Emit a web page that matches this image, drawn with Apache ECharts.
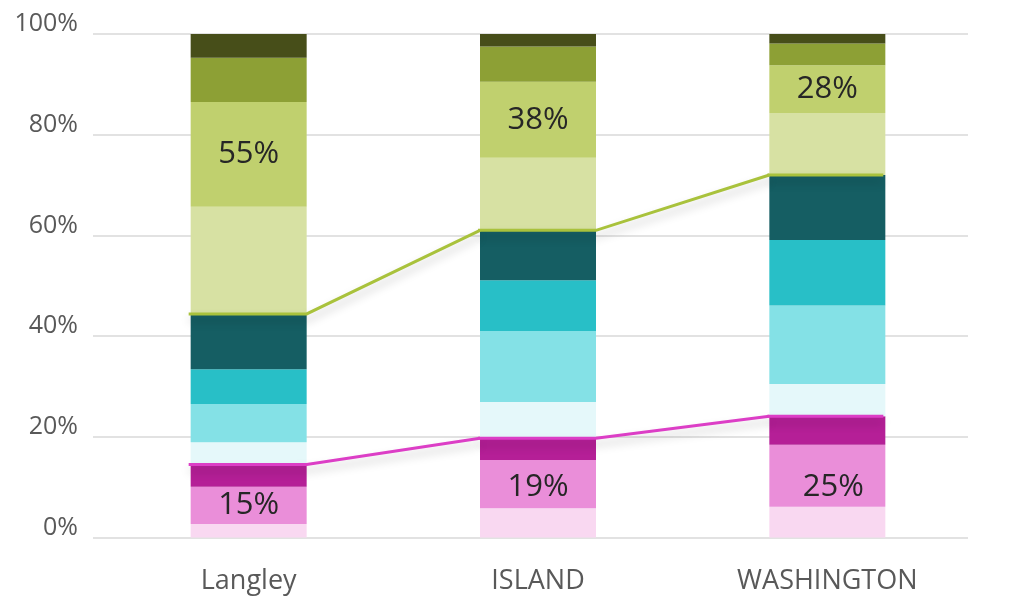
<!DOCTYPE html>
<html>
<head>
<meta charset="utf-8">
<title>Share by region</title>
<script src="https://cdn.jsdelivr.net/npm/echarts@6/dist/echarts.min.js"></script>
<style>
    html, body { margin: 0; padding: 0; background: #fff; }
    #chart { width: 1009px; height: 596px; }
</style>
</head>
<body>
<div id="chart"></div>
<script>
// regions on the x axis
const REGIONS = ['Langley', 'ISLAND', 'WASHINGTON'];

// stacked shares, bottom to top (percent)
const LIGHT_PINK = [2.7, 5.8, 6.1];
const PINK = [7.4, 9.6, 12.3];
const MAGENTA = [4.4, 4.3, 5.7];
const PALE_CYAN = [4.4, 7.2, 6.4];
const LIGHT_CYAN = [7.6, 14.1, 15.6];
const CYAN = [6.9, 10.1, 13.0];
const TEAL = [11.0, 9.9, 12.9];
const PALE_GREEN = [21.3, 14.4, 12.3];
const LIGHT_GREEN = [20.8, 15.1, 9.5];
const GREEN = [8.8, 7.0, 4.3];
const OLIVE = [4.7, 2.5, 1.9];

// group totals printed in the bars
const PINK_TOTAL = [15, 19, 25];
const GREEN_TOTAL = [55, 38, 28];

const Y_TICKS = [0, 20, 40, 60, 80, 100];

const FONT = 'Open Sans';
const BAR_WIDTH = 116;

const segments = [
    { name: 'lightPink', data: LIGHT_PINK, color: '#f9d8f1' },
    { name: 'pink', data: PINK, color: '#ea8ed9' },
    { name: 'magenta', data: MAGENTA, color: '#b51f97' },
    { name: 'paleCyan', data: PALE_CYAN, color: '#e5f8fa' },
    { name: 'lightCyan', data: LIGHT_CYAN, color: '#84e1e6' },
    { name: 'cyan', data: CYAN, color: '#28bfc7' },
    { name: 'teal', data: TEAL, color: '#155e63' },
    { name: 'paleGreen', data: PALE_GREEN, color: '#d7e1a3' },
    { name: 'lightGreen', data: LIGHT_GREEN, color: '#c0d06e' },
    { name: 'green', data: GREEN, color: '#8da035' },
    { name: 'olive', data: OLIVE, color: '#474e19' }
];

// nudges for the pink labels (px)
const PINK_LABEL_OFFSET = [[0, 0], [0, 3], [6, 11]];

const sumOf = (arrays) => REGIONS.map((_, i) => arrays.reduce((s, a) => s + a[i], 0));
const pinkTop = sumOf([LIGHT_PINK, PINK, MAGENTA]);
const tealTop = sumOf([LIGHT_PINK, PINK, MAGENTA, PALE_CYAN, LIGHT_CYAN, CYAN, TEAL]);

const labelStyle = {
    show: true,
    position: 'inside',
    fontFamily: FONT,
    fontSize: 31,
    color: '#262626'
};

const barSeries = segments.map((seg) => {
    const s = {
        name: seg.name,
        type: 'bar',
        stack: 'share',
        xAxisIndex: 1,
        yAxisIndex: 1,
        barWidth: BAR_WIDTH,
        itemStyle: { color: seg.color },
        emphasis: { disabled: true },
        data: seg.data.slice()
    };
    if (seg.name === 'pink') {
        s.data = seg.data.map((v, i) => ({ value: v, label: { offset: PINK_LABEL_OFFSET[i] } }));
        s.label = Object.assign({}, labelStyle, { formatter: (p) => PINK_TOTAL[p.dataIndex] + '%' });
    }
    if (seg.name === 'lightGreen') {
        s.label = Object.assign({}, labelStyle, { formatter: (p) => GREEN_TOTAL[p.dataIndex] + '%' });
    }
    return s;
});

// line across each bar top, then a slope to the next bar
const connector = (name, values, color) => ({
    name: name,
    type: 'custom',
    xAxisIndex: 1,
    yAxisIndex: 1,
    z: 5,
    silent: true,
    data: values.map((v, i) => [i, v]),
    renderItem: (params, api) => {
        const i = params.dataIndex;
        const half = BAR_WIDTH / 2;
        const p = api.coord([i, values[i]]);
        const last = i === values.length - 1;
        const pts = [[p[0] - half - 2, p[1]], [p[0] + half - (last ? 2 : 0), p[1]]];
        if (!last) {
            const q = api.coord([i + 1, values[i + 1]]);
            pts.push([q[0] - half, q[1]]);
        }
        return {
            type: 'polyline',
            shape: { points: pts },
            style: {
                stroke: color,
                fill: null,
                lineWidth: 3,
                shadowColor: 'rgba(0, 0, 0, 0.22)',
                shadowBlur: 10,
                shadowOffsetY: 6
            }
        };
    }
});

const chart = echarts.init(document.getElementById('chart'), null, { renderer: 'canvas' });
chart.setOption({
    animation: false,
    grid: [
        { left: 93, right: 41, top: 34, bottom: 58.5 },
        { left: 104, right: 37, top: 34, bottom: 58.5 }
    ],
    xAxis: [
        { gridIndex: 0, type: 'category', data: REGIONS, show: false },
        {
            gridIndex: 1,
            type: 'category',
            data: REGIONS,
            axisLine: { show: false },
            axisTick: { show: false },
            axisLabel: {
                margin: 30,
                fontFamily: FONT,
                fontSize: 27,
                color: '#595959'
            }
        }
    ],
    yAxis: [
        {
            gridIndex: 0,
            type: 'value',
            min: Y_TICKS[0],
            max: Y_TICKS[Y_TICKS.length - 1],
            interval: Y_TICKS[1] - Y_TICKS[0],
            axisLine: { show: false },
            axisTick: { show: false },
            axisLabel: {
                formatter: '{value}%',
                margin: 15,
                fontFamily: FONT,
                fontSize: 25,
                color: '#595959',
                verticalAlign: 'bottom',
                lineHeight: 20
            },
            splitLine: { lineStyle: { color: '#d9d9d9', width: 1.5 } }
        },
        { gridIndex: 1, type: 'value', min: 0, max: 100, show: false }
    ],
    series: barSeries.concat([
        connector('pinkLine', pinkTop, '#dc3ec6'),
        connector('greenLine', tealTop, '#a9c23c')
    ])
});
</script>
</body>
</html>
